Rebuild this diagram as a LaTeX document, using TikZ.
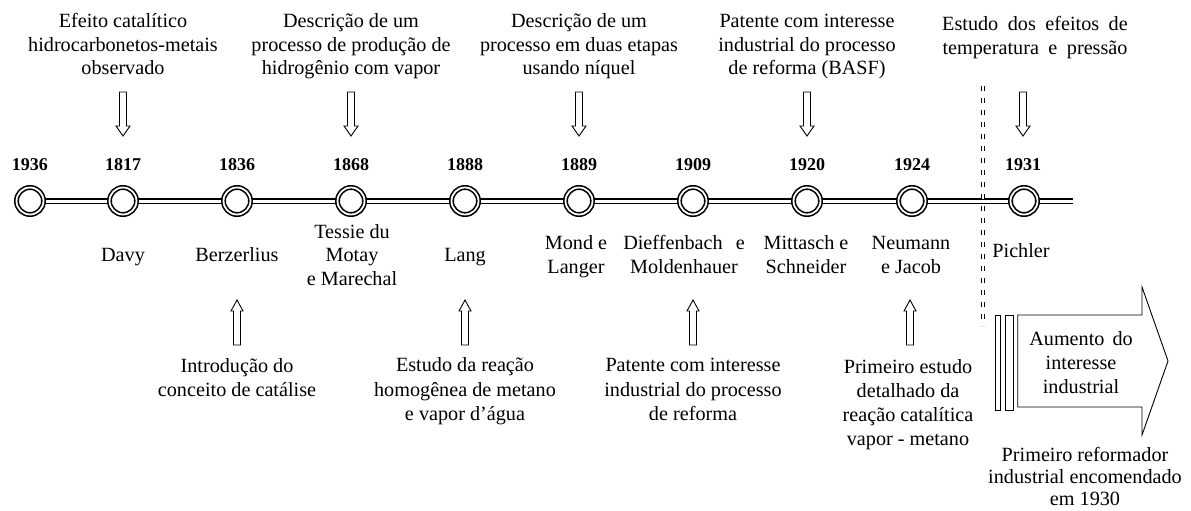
\documentclass[tikz,border=0pt]{standalone}
\usepackage{fontspec}
\setmainfont{Liberation Serif}
\usetikzlibrary{backgrounds}
% centred block of lines with struts of the current font
\newcommand\txtblock[1]{\begin{tabular}{@{}c@{}}#1\end{tabular}}
\begin{document}
\begin{tikzpicture}[x=1pt,y=-1pt,
  event/.style={circle,draw,double,double distance=1.8pt,line width=1.6pt,
    minimum size=27pt,inner sep=0pt,fill=white},
  rail/.style={double,double distance=3pt,line width=1.3pt},
  divider/.style={double,double distance=1.2pt,line width=1.5pt,dash pattern=on 5pt off 7pt},
  year/.style={inner sep=0pt,font=\fontsize{18}{21}\selectfont\bfseries},
  note/.style={inner sep=0pt,font=\fontsize{20.2}{23.5}\selectfont},
  lownote/.style={inner sep=0pt,font=\fontsize{20.2}{24.3}\selectfont},
  tightnote/.style={inner sep=0pt,font=\fontsize{20.2}{21.7}\selectfont},
  hollow/.style={draw,line width=0.9pt,fill=white,line join=miter},
  downarrow/.pic={\path[hollow] (-3.5,0) -- (3.5,0) -- (3.5,34) -- (7,34) -- (0,44)
      -- (-7,34) -- (-3.5,34) -- cycle;},
  uparrow/.pic={\path[hollow] (-3.5,45) -- (3.5,45) -- (3.5,11) -- (6,11) -- (0,0)
      -- (-6,11) -- (-3.5,11) -- cycle;}
]
\useasboundingbox (0,0) rectangle (1191,511);

% events on the time line
\node[event] (e1936) at (30,201) {};
\node[event] (e1817) at (123,201) {};
\node[event] (e1836) at (237,201) {};
\node[event] (e1868) at (351,201) {};
\node[event] (e1888) at (465,201) {};
\node[event] (e1889) at (579,201) {};
\node[event] (e1909) at (693,201) {};
\node[event] (e1920) at (807,201) {};
\node[event] (e1924) at (912,201) {};
\node[event] (e1931) at (1024,201) {};
\coordinate (lineend) at (1073,201);

\begin{scope}[on background layer]
  \draw[rail] (e1936) -- (lineend);
\end{scope}

% years
\node[year] (y1936) at (30,165) {1936};
\node[year] (y1817) at (123,165) {1817};
\node[year] (y1836) at (237,165) {1836};
\node[year] (y1868) at (351,165) {1868};
\node[year] (y1888) at (465,165) {1888};
\node[year] (y1889) at (579,165) {1889};
\node[year] (y1909) at (693,165) {1909};
\node[year] (y1920) at (807,165) {1920};
\node[year] (y1924) at (912,165) {1924};
\node[year] (y1931) at (1023,165) {1931};

% separation before 1931
\coordinate (divtop) at (983,86);
\coordinate (divbot) at (983,326);
\draw[divider] (divtop) -- (divbot);

% events described above the line
\node[note] (t1817) at (123,46.8) {\txtblock{Efeito catalítico\\hidrocarbonetos-metais\\observado}};
\node[note] (t1868) at (351,46.8) {\txtblock{Descrição de um\\processo de produção de\\hidrogênio com vapor}};
\node[note] (t1889) at (579,46.8) {\txtblock{Descrição de um\\processo em duas etapas\\usando níquel}};
\node[note] (t1920) at (807,46.8) {\txtblock{Patente com interesse\\industrial do processo\\de reforma (BASF)}};
\node[note] (t1931) at (1035,38) {\spaceskip=9.5pt\relax\txtblock{Estudo dos efeitos de\\temperatura e pressão}};

\pic (a1817) at (123,92) {downarrow};
\pic (a1868) at (351,92) {downarrow};
\pic (a1889) at (579,92) {downarrow};
\pic (a1920) at (807,92) {downarrow};
\pic (a1931) at (1023,92) {downarrow};

% names
\node[note] (n1817) at (123,257) {\txtblock{Davy}};
\node[note] (n1836) at (237,257) {\txtblock{Berzerlius}};
\node[note] (n1868) at (352,257) {\txtblock{Tessie du\\Motay\\e Marechal}};
\node[note] (n1888) at (465,257) {\txtblock{Lang}};
\node[note] (n1889) at (576,257) {\txtblock{Mond e\\Langer}};
\node[note] (n1909) at (684,257) {\txtblock{Dieffenbach\hspace{13pt}e\\Moldenhauer}};
\node[note] (n1920) at (806,257) {\txtblock{Mittasch e\\Schneider}};
\node[note] (n1924) at (911,257) {\txtblock{Neumann\\e Jacob}};
\node[note] (n1931) at (1021,253) {\txtblock{Pichler}};

% events described below the line
\pic (b1836) at (237,300) {uparrow};
\pic (b1888) at (465,300) {uparrow};
\pic (b1909) at (693,300) {uparrow};
\pic (b1924) at (910,300) {uparrow};

\node[lownote] (d1836) at (237,379.3) {\txtblock{Introdução do\\conceito de catálise}};
\node[lownote] (d1888) at (465,391.4) {\txtblock{Estudo da reação\\homogênea de metano\\e vapor d’água}};
\node[lownote] (d1909) at (693,391.4) {\txtblock{Patente com interesse\\industrial do processo\\de reforma}};
\node[lownote] (d1924) at (908,404.6) {\txtblock{Primeiro estudo\\detalhado da\\reação catalítica\\vapor - metano}};

% growth arrow
\draw[line width=0.9pt] (995.7,315) rectangle (1000.7,410);
\draw[line width=0.9pt] (1005,315) rectangle (1013.3,410);
\draw[line width=0.9pt,line join=miter] (1017.7,315) -- (1142,315) -- (1142,287) -- (1168,361)
  -- (1142,435) -- (1142,407) -- (1017.7,407) -- cycle;
\node[note,font=\fontsize{20.2}{24}\selectfont] (growth) at (1081,364.2) {\spaceskip=8pt\relax\txtblock{Aumento do\\interesse\\industrial}};
\node[tightnote] (first) at (1085,479) {\txtblock{Primeiro reformador\\industrial encomendado\\em 1930}};
\end{tikzpicture}
\end{document}
